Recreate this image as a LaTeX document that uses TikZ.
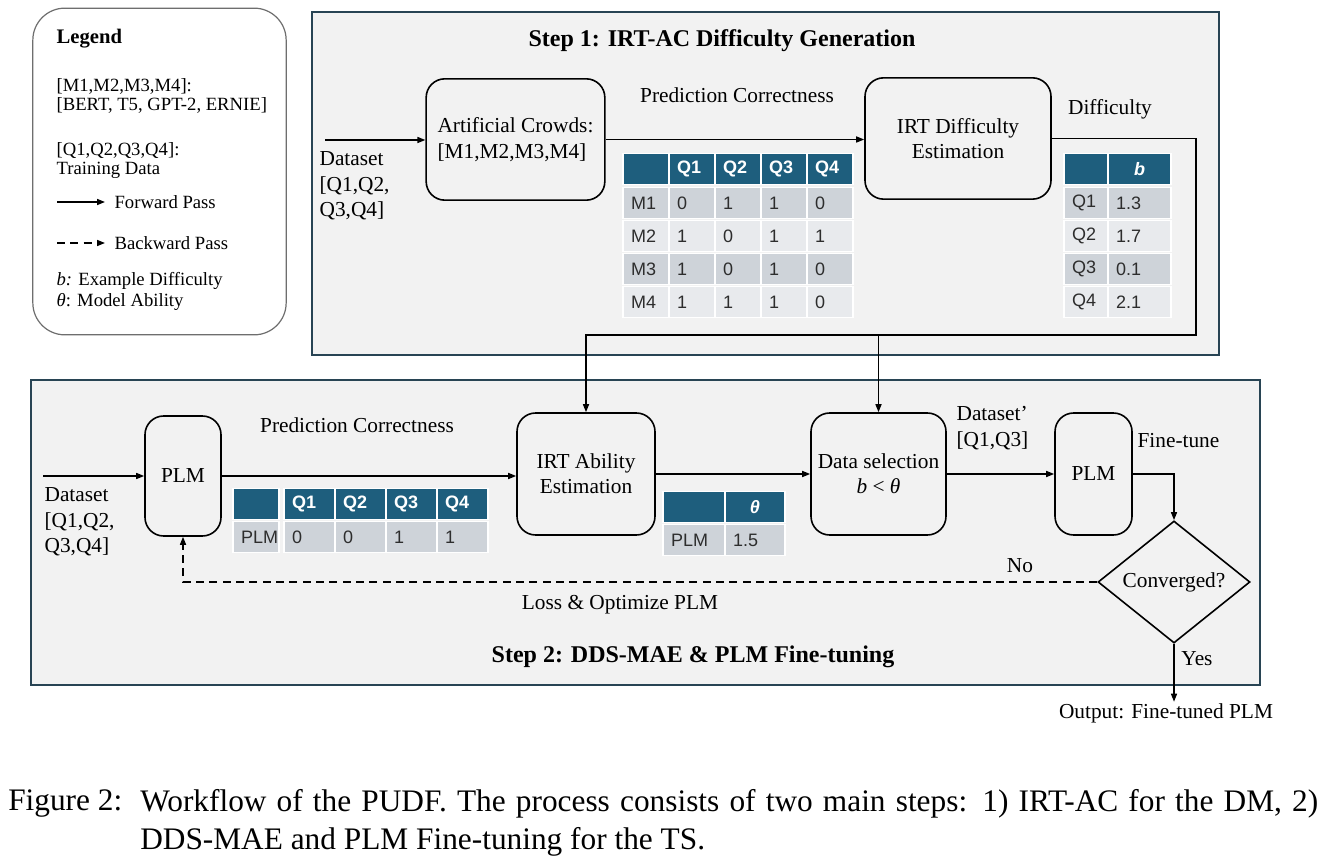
\documentclass[tikz,border=0pt]{standalone}
\usepackage{fontspec}
\setmainfont{Liberation Serif}
\newfontfamily\tabfont{Liberation Sans}
\usepackage{tikz}
\usetikzlibrary{shapes.geometric,arrows.meta}

\begin{document}
\begin{tikzpicture}[x=0.75pt,y=-0.75pt,
  txt/.style={font=\fontsize{16}{19}\selectfont, inner sep=1pt},
  legtxt/.style={font=\fontsize{14}{17}\selectfont, inner sep=1pt, anchor=west},
  captext/.style={font=\fontsize{23.5}{28}\selectfont, inner sep=0pt, anchor=west},
  procbox/.style={draw, line width=1.2pt, rounded corners=14pt, align=center, font=\fontsize{16}{19}\selectfont},
  stepbox/.style={draw=stepline, fill=stepfill, line width=1.5pt},
  fwd/.style={line width=1.1pt, -{Triangle[length=6pt,width=4.5pt]}},
  bwd/.style={fwd, dash pattern=on 6pt off 4pt},
  cell/.style={draw=white, line width=1.2pt, minimum height=23pt, inner ysep=0pt, inner xsep=6pt, align=left, text width=#1, font=\tabfont\fontsize{13.5}{15}\selectfont, text=celltext},
  hd/.style={cell=#1, fill=tabhead, text=white, font=\tabfont\bfseries\fontsize{13.5}{15}\selectfont},
  dk/.style={cell=#1, fill=rowdark},
  lt/.style={cell=#1, fill=rowlight}]
% Define colours
\definecolor{stepfill}{RGB}{242,242,242}
\definecolor{stepline}{RGB}{40,68,84}
\definecolor{tabhead}{RGB}{30,94,125}
\definecolor{rowdark}{RGB}{206,211,217}
\definecolor{rowlight}{RGB}{232,234,237}
\definecolor{celltext}{RGB}{45,45,45}
\definecolor{legline}{RGB}{110,110,110}

\fill[white] (0,0) rectangle (1331,862);
\useasboundingbox (0,0) rectangle (1331,862);

% Legend
\node[draw=legline, line width=0.9pt, rounded corners=24pt, minimum width=190pt, minimum height=245pt] (legend) at (159.5,171.5) {};
\node[legtxt, font=\fontsize{15.5}{18}\selectfont\bfseries] (legtitle) at (55,39) {Legend};
\node[legtxt] (legm) at (55,86) {[M1,M2,M3,M4]:};
\node[legtxt] (legmodels) at (55,105) {[BERT, T5, GPT-2, ERNIE]};
\node[legtxt] (legq) at (55,151) {[Q1,Q2,Q3,Q4]:};
\node[legtxt] (legdata) at (55,170) {Training Data};
\coordinate (fwdA) at (57,202);
\coordinate (fwdB) at (105,202);
\draw[fwd] (fwdA) -- (fwdB);
\node[legtxt] (legfwd) at (113,202) {Forward Pass};
\coordinate (bwdA) at (57,243);
\coordinate (bwdB) at (105,243);
\draw[bwd] (bwdA) -- (bwdB);
\node[legtxt] (legbwd) at (113,243) {Backward Pass};
\node[legtxt] (legb) at (55,281) {\textit{b:} Example Difficulty};
\node[legtxt] (legtheta) at (55,302) {\textit{θ}: Model Ability};

% Step 1
\draw[stepbox] (312,12) rectangle (1219,355);
\node[txt, font=\fontsize{18}{21}\selectfont\bfseries] (steponetitle) at (722,41) {Step 1: IRT-AC Difficulty Generation};
\node[procbox, minimum width=134pt, minimum height=91pt, align=left] (crowds) at (515.5,139.5) {Artificial Crowds:\\{}[M1,M2,M3,M4]};
\node[procbox, minimum width=139.5pt, minimum height=91pt] (irtdiff) at (958,138.5) {IRT Difficulty\\Estimation};
\coordinate (dsonein) at (325,140);
\node[txt, anchor=west, align=left] (dsone) at (318,186) {Dataset\\{}[Q1,Q2,\\Q3,Q4]};
\node[txt] (predone) at (737,95) {Prediction Correctness};
\node[txt] (diffone) at (1110,109) {Difficulty};
\draw[fwd] (dsonein) -- (dsonein -| crowds.west);
\draw[fwd] (crowds.east) -- (crowds.east -| irtdiff.west);

% Prediction table of the crowds
\node[hd=22.5pt] (mh0) at (646,169) {};
\node[hd=22.5pt] (mh1) at (692,169) {Q1};
\node[hd=22.5pt] (mh2) at (738,169) {Q2};
\node[hd=22.5pt] (mh3) at (784,169) {Q3};
\node[hd=22.5pt] (mh4) at (830,169) {Q4};
\node[dk=22.5pt] (ma0) at (646,203) {M1};
\node[dk=22.5pt] (ma1) at (692,203) {0};
\node[dk=22.5pt] (ma2) at (738,203) {1};
\node[dk=22.5pt] (ma3) at (784,203) {1};
\node[dk=22.5pt] (ma4) at (830,203) {0};
\node[lt=22.5pt] (mb0) at (646,236) {M2};
\node[lt=22.5pt] (mb1) at (692,236) {1};
\node[lt=22.5pt] (mb2) at (738,236) {0};
\node[lt=22.5pt] (mb3) at (784,236) {1};
\node[lt=22.5pt] (mb4) at (830,236) {1};
\node[dk=22.5pt] (mc0) at (646,269) {M3};
\node[dk=22.5pt] (mc1) at (692,269) {1};
\node[dk=22.5pt] (mc2) at (738,269) {0};
\node[dk=22.5pt] (mc3) at (784,269) {1};
\node[dk=22.5pt] (mc4) at (830,269) {0};
\node[lt=22.5pt] (md0) at (646,302) {M4};
\node[lt=22.5pt] (md1) at (692,302) {1};
\node[lt=22.5pt] (md2) at (738,302) {1};
\node[lt=22.5pt] (md3) at (784,302) {1};
\node[lt=22.5pt] (md4) at (830,302) {0};

% Difficulty table
\node[hd=21pt] (bh0) at (1086,169) {};
\node[hd=35.25pt, align=center] (bh1) at (1139.5,169) {\itshape b};
\node[dk=21pt] (ba0) at (1086,203) {Q1};
\node[dk=35.25pt] (ba1) at (1139.5,203) {1.3};
\node[lt=21pt] (bb0) at (1086,236) {Q2};
\node[lt=35.25pt] (bb1) at (1139.5,236) {1.7};
\node[dk=21pt] (bc0) at (1086,269) {Q3};
\node[dk=35.25pt] (bc1) at (1139.5,269) {0.1};
\node[lt=21pt] (bd0) at (1086,302) {Q4};
\node[lt=35.25pt] (bd1) at (1139.5,302) {2.1};

% Step 2
\draw[stepbox] (31,380) rectangle (1260,685);
\node[txt, font=\fontsize{18}{21}\selectfont\bfseries] (steptwotitle) at (693,657) {Step 2: DDS-MAE \& PLM Fine-tuning};
\node[procbox, minimum width=57pt, minimum height=90pt] (plmone) at (183,476) {PLM};
\node[procbox, minimum width=103.5pt, minimum height=91.5pt] (irtabil) at (586,474) {IRT Ability\\Estimation};
\node[procbox, minimum width=101.25pt, minimum height=91.5pt] (datasel) at (878.5,474) {Data selection\\\textit{b} < \textit{θ}};
\node[procbox, minimum width=57.75pt, minimum height=91.5pt] (plmtwo) at (1093.5,474) {PLM};
\node[draw, diamond, line width=1.2pt, minimum width=114pt, minimum height=81pt, inner sep=0pt, font=\fontsize{16}{19}\selectfont] (conv) at (1174,582) {Converged?};
\coordinate (dstwoin) at (43,476);
\node[txt, anchor=west, align=left] (dstwo) at (43,522) {Dataset\\{}[Q1,Q2,\\Q3,Q4]};
\node[txt] (predtwo) at (357,425) {Prediction Correctness};
\node[txt, anchor=west, align=left] (dsprime) at (955,428) {Dataset’\\{}[Q1,Q3]};
\node[txt, anchor=west] (finetune) at (1136,441) {Fine-tune};
\node[txt] (nolabel) at (1020,566) {No};
\node[txt] (losslabel) at (620,605) {Loss \& Optimize PLM};
\node[txt] (yeslabel) at (1197,659) {Yes};
\node[txt] (output) at (1166,713) {Output: Fine-tuned PLM};

% Forward and backward passes
\draw[fwd] (dstwoin) -- (plmone.west);
\draw[fwd] (plmone.east) -- (plmone.east -| irtabil.west);
\draw[fwd] (irtabil.east) -- (datasel.west);
\draw[fwd] (datasel.east) -- (plmtwo.west);
\draw[fwd] (plmtwo.east) -| (conv.north);
\draw[bwd] (conv.west) -| (plmone.south);
\draw[fwd] (conv.south) -- (conv.south |- output.north);

% Difficulty to step 2
\coordinate (diffcorner) at (1196,335);
\draw[fwd] (irtdiff.east) -| (diffcorner) -- (diffcorner -| irtabil.north) -- (irtabil.north);
\draw[fwd] (datasel.north |- diffcorner) -- (datasel.north);

% Ability table
\node[hd=22.5pt] (ph0) at (256,504) {};
\node[hd=26.25pt] (ph1) at (309.5,504) {Q1};
\node[hd=26.25pt] (ph2) at (360.5,504) {Q2};
\node[hd=26.25pt] (ph3) at (411.5,504) {Q3};
\node[hd=26.25pt] (ph4) at (462.5,504) {Q4};
\node[dk=22.5pt] (pa0) at (256,537) {PLM};
\node[dk=26.25pt] (pa1) at (309.5,537) {0};
\node[dk=26.25pt] (pa2) at (360.5,537) {0};
\node[dk=26.25pt] (pa3) at (411.5,537) {1};
\node[dk=26.25pt] (pa4) at (462.5,537) {1};
\node[hd=34.5pt] (th0) at (694,507) {};
\node[hd=33pt, align=center] (th1) at (755,507) {\itshape θ};
\node[dk=34.5pt] (ta0) at (694,540) {PLM};
\node[dk=33pt] (ta1) at (755,540) {1.5};

% Caption
\node[captext] (capfig) at (8,804) {Figure 2:};
\node[captext] (capone) at (140,804) {\makebox[883.5pt][s]{Workflow of the PUDF. The process consists of two main steps: 1) IRT-AC for the DM, 2)}};
\node[captext] (captwo) at (140,842) {DDS-MAE and PLM Fine-tuning for the TS.};
\end{tikzpicture}
\end{document}
